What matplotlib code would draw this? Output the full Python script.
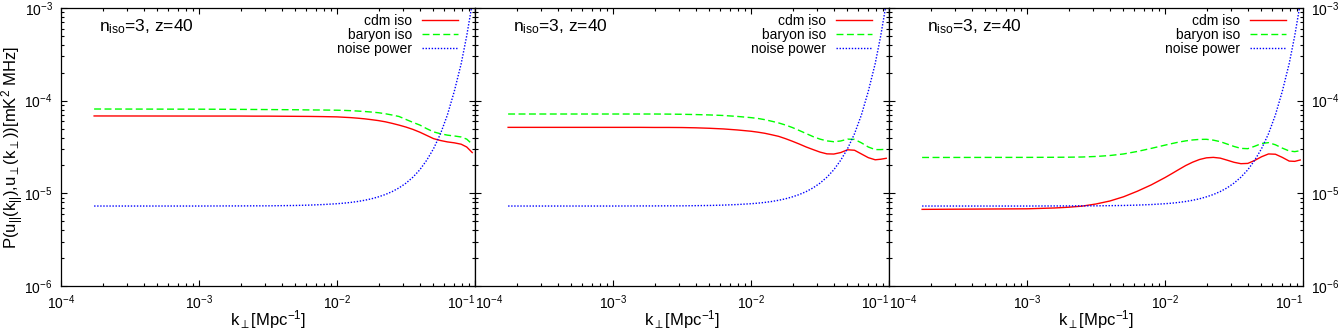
import numpy as np
import matplotlib
matplotlib.use("Agg")
import matplotlib.pyplot as plt
from matplotlib.ticker import LogLocator, NullFormatter

plt.rcParams['font.family'] = ['Liberation Sans', 'DejaVu Sans']
plt.rcParams['mathtext.fontset'] = 'custom'
plt.rcParams['mathtext.rm'] = 'Liberation Sans'
plt.rcParams['mathtext.it'] = 'Liberation Sans:italic'
plt.rcParams['mathtext.bf'] = 'Liberation Sans:bold'

# log10 of k_perp [Mpc^-1] at which the curves were read
log_k_perp = [-3.76, -3.0, -2.8, -2.7, -2.6, -2.5, -2.4, -2.3, -2.2, -2.1, -2.0,
              -1.95, -1.9, -1.85, -1.8, -1.75, -1.7, -1.65, -1.6, -1.55, -1.5,
              -1.45, -1.4, -1.35, -1.3, -1.25, -1.2, -1.15, -1.1, -1.06, -1.02]

# log10 of power [mK^2 MHz]
noise_log = [-5.137, -5.137, -5.136, -5.136, -5.135, -5.135, -5.133, -5.131, -5.127,
             -5.121, -5.112, -5.106, -5.098, -5.088, -5.075, -5.059, -5.038, -5.013,
             -4.981, -4.941, -4.890, -4.826, -4.746, -4.643, -4.517, -4.357, -4.154,
             -3.899, -3.600, -3.300, -2.950]

cdm_log_1 = [-4.165, -4.166, -4.166, -4.166, -4.167, -4.167, -4.168, -4.169, -4.170,
             -4.172, -4.175, -4.179, -4.183, -4.189, -4.196, -4.205, -4.215, -4.228,
             -4.245, -4.264, -4.285, -4.310, -4.340, -4.375, -4.410, -4.430, -4.445,
             -4.455, -4.470, -4.500, -4.560]
baryon_log_1 = [-4.090, -4.092, -4.093, -4.094, -4.095, -4.096, -4.097, -4.098, -4.100,
                -4.101, -4.103, -4.105, -4.108, -4.112, -4.117, -4.123, -4.130, -4.141,
                -4.155, -4.171, -4.203, -4.234, -4.263, -4.302, -4.337, -4.357, -4.372,
                -4.381, -4.392, -4.415, -4.470]

cdm_log_2 = [-4.288, -4.288, -4.288, -4.289, -4.289, -4.290, -4.293, -4.298, -4.305,
             -4.316, -4.330, -4.340, -4.352, -4.368, -4.385, -4.410, -4.438, -4.468,
             -4.500, -4.528, -4.555, -4.574, -4.576, -4.560, -4.530, -4.535, -4.575,
             -4.615, -4.638, -4.632, -4.622]
baryon_log_2 = [-4.144, -4.144, -4.144, -4.144, -4.145, -4.147, -4.150, -4.154, -4.160,
                -4.170, -4.183, -4.192, -4.205, -4.222, -4.240, -4.263, -4.290, -4.322,
                -4.355, -4.388, -4.415, -4.434, -4.443, -4.435, -4.415, -4.418, -4.455,
                -4.500, -4.528, -4.528, -4.525]

cdm_log_3 = [-5.173, -5.167, -5.158, -5.150, -5.138, -5.115, -5.083, -5.037, -4.977,
             -4.909, -4.830, -4.787, -4.743, -4.700, -4.664, -4.635, -4.617, -4.612,
             -4.620, -4.642, -4.665, -4.680, -4.677, -4.645, -4.605, -4.575, -4.578,
             -4.612, -4.652, -4.655, -4.640]
baryon_log_3 = [-4.613, -4.612, -4.611, -4.610, -4.608, -4.602, -4.592, -4.575, -4.548,
                -4.515, -4.480, -4.463, -4.447, -4.434, -4.424, -4.418, -4.417, -4.426,
                -4.442, -4.468, -4.494, -4.515, -4.518, -4.492, -4.462, -4.453, -4.476,
                -4.512, -4.543, -4.550, -4.540]

panels = [(cdm_log_1, baryon_log_1), (cdm_log_2, baryon_log_2), (cdm_log_3, baryon_log_3)]
panel_label = r'n$_{\mathrm{iso}}$=3, z=40'
legend_labels = ['cdm iso', 'baryon iso', 'noise power']
xticks = [1e-4, 1e-3, 1e-2, 1e-1]
yticks = [1e-6, 1e-5, 1e-4, 1e-3]

W, H = 1339, 332
fig = plt.figure(figsize=(W / 100, H / 100), dpi=100)

left_px = [61, 475, 889]
ax_w = 414
top_px, bot_px = 8, 286
ax_h = bot_px - top_px

k = 10 ** np.array(log_k_perp)
for i, (cdm_log, bar_log) in enumerate(panels):
    ax = fig.add_axes([left_px[i] / W, 1 - bot_px / H, ax_w / W, ax_h / H])
    ax.set_xscale('log')
    ax.set_yscale('log')
    ax.set_xlim(1e-4, 1e-1)
    ax.set_ylim(1e-6, 1e-3)

    ax.plot(k, 10 ** np.array(cdm_log), color='#ff0000', lw=1.0, label=legend_labels[0])
    ax.plot(k, 10 ** np.array(bar_log), color='#00ff00', lw=1.0, dashes=(5, 2.5),
            label=legend_labels[1])
    ax.plot(k, 10 ** np.array(noise_log), color='#0000ff', lw=1.0, dashes=(1, 1.2),
            label=legend_labels[2])

    ax.set_xticks(xticks)
    ax.set_yticks(yticks)
    ax.xaxis.set_minor_locator(LogLocator(base=10, subs=np.arange(2, 10)))
    ax.yaxis.set_minor_locator(LogLocator(base=10, subs=np.arange(2, 10)))
    ax.xaxis.set_minor_formatter(NullFormatter())
    ax.yaxis.set_minor_formatter(NullFormatter())
    ax.tick_params(which='both', direction='in', top=True, right=True,
                   labelsize=10, width=0.8, colors='black')
    ax.tick_params(which='major', length=4.5)
    ax.tick_params(which='minor', length=2.5)
    ax.tick_params(axis='x', pad=5)
    ax.tick_params(axis='y', pad=6)
    for s in ax.spines.values():
        s.set_linewidth(0.9)

    if i == 0:
        ax.tick_params(axis='y', labelleft=True, labelright=False)
        ax.set_ylabel(r'P(u$_{||}$(k$_{||}$),u$_{\perp}$(k$_{\perp}$))[mK$^{2}$ MHz]', fontsize=12)
        ax.yaxis.set_label_coords((13 - 61) / ax_w, 0.5)
        ax.yaxis.label.set_verticalalignment('center')
    elif i == 1:
        ax.tick_params(axis='y', labelleft=False, labelright=False)
    else:
        ax.tick_params(axis='y', labelleft=False, labelright=True)

    ticks = ax.xaxis.get_major_ticks()
    if i > 0:
        ticks[0].label1.set_horizontalalignment('left')
    ticks[-1].label1.set_horizontalalignment('right')

    ax.set_xlabel(r'k$_{\perp}$[Mpc$^{-1}$]', fontsize=12)
    ax.xaxis.set_label_coords(0.5, (bot_px - 331) / ax_h)
    ax.xaxis.label.set_verticalalignment('bottom')

    ax.text(0.092, 0.915, panel_label, transform=ax.transAxes, fontsize=12.5,
            ha='left', va='baseline')

    ax.legend(loc='upper right', bbox_to_anchor=(1 - 17 / ax_w, 1 - 6 / ax_h),
              markerfirst=False, frameon=False, fontsize=10, borderaxespad=0,
              borderpad=0, handlelength=2.6, handletextpad=0.7, labelspacing=0.0)

fig.savefig('out.png', dpi=100)
